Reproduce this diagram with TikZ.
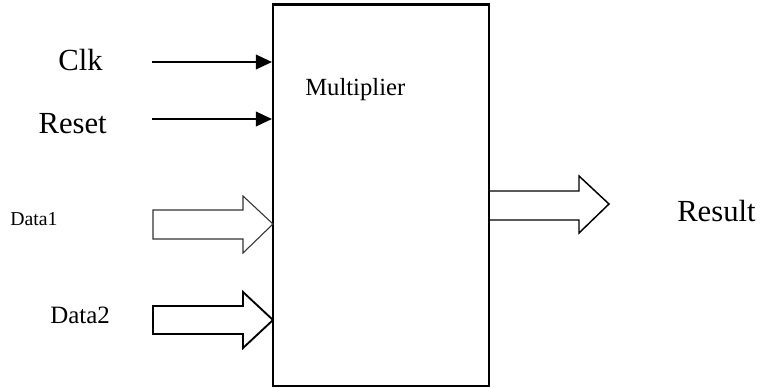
\documentclass[tikz,border=0pt]{standalone}
\usepackage{fontspec}
\setmainfont{Liberation Serif}
\usepackage{tikz}
\usetikzlibrary{positioning,arrows.meta}

\begin{document}
\begin{tikzpicture}[x=0.75pt,y=-0.75pt,
        sig/.style={line width=1.1pt,-{Triangle[length=12pt,width=11pt]}},
        bus/.style={line width=1.1pt},
        lbl/.style={inner sep=0pt,anchor=base east}]
        \useasboundingbox (0,0) rectangle (760,387);
        \node[draw,line width=1.6pt,minimum width=162pt,minimum height=285.9pt,inner sep=0pt] (mult) at (381,195.1) {}; %本体
        \node[inner sep=0pt,anchor=base west,font=\fontsize{18.5}{20}\selectfont] (multname) at (305,95) {Multiplier};
        % 制御入力
        \coordinate (clkin) at (152,62);
        \coordinate (rstin) at (152,119);
        \draw[sig] (clkin) -- (clkin -| mult.west); %Clk
        \draw[sig] (rstin) -- (rstin -| mult.west); %Reset
        \node[lbl,font=\fontsize{23}{25}\selectfont] (clk) at (103,70) {Clk};
        \node[lbl,font=\fontsize{23}{25}\selectfont] (rst) at (107,133) {Reset};
        % データ入力
        \draw[bus,line width=0.8pt,draw=black!80] (153,210) -- (243,210) -- (243,196) -- (273,224) -- (243,253) -- (243,239) -- (153,239) -- cycle; %Data1
        \draw[bus,line width=1.4pt] (153,306) -- (243,306) -- (243,292) -- (273,320) -- (243,348) -- (243,334) -- (153,334) -- cycle; %Data2
        \node[inner sep=0pt,anchor=base west,font=\fontsize{14.8}{16}\selectfont] (data1) at (10,225) {Data1};
        \node[inner sep=0pt,anchor=base west,font=\fontsize{18.7}{20}\selectfont] (data2) at (50,323) {Data2};
        % 出力
        \draw[bus] (489,191) -- (579,191) -- (579,176) -- (609,204) -- (579,233) -- (579,220) -- (489,220); %Result
        \node[inner sep=0pt,anchor=base west,font=\fontsize{23}{25}\selectfont] (res) at (677,221) {Result};
    \end{tikzpicture}
\end{document}
